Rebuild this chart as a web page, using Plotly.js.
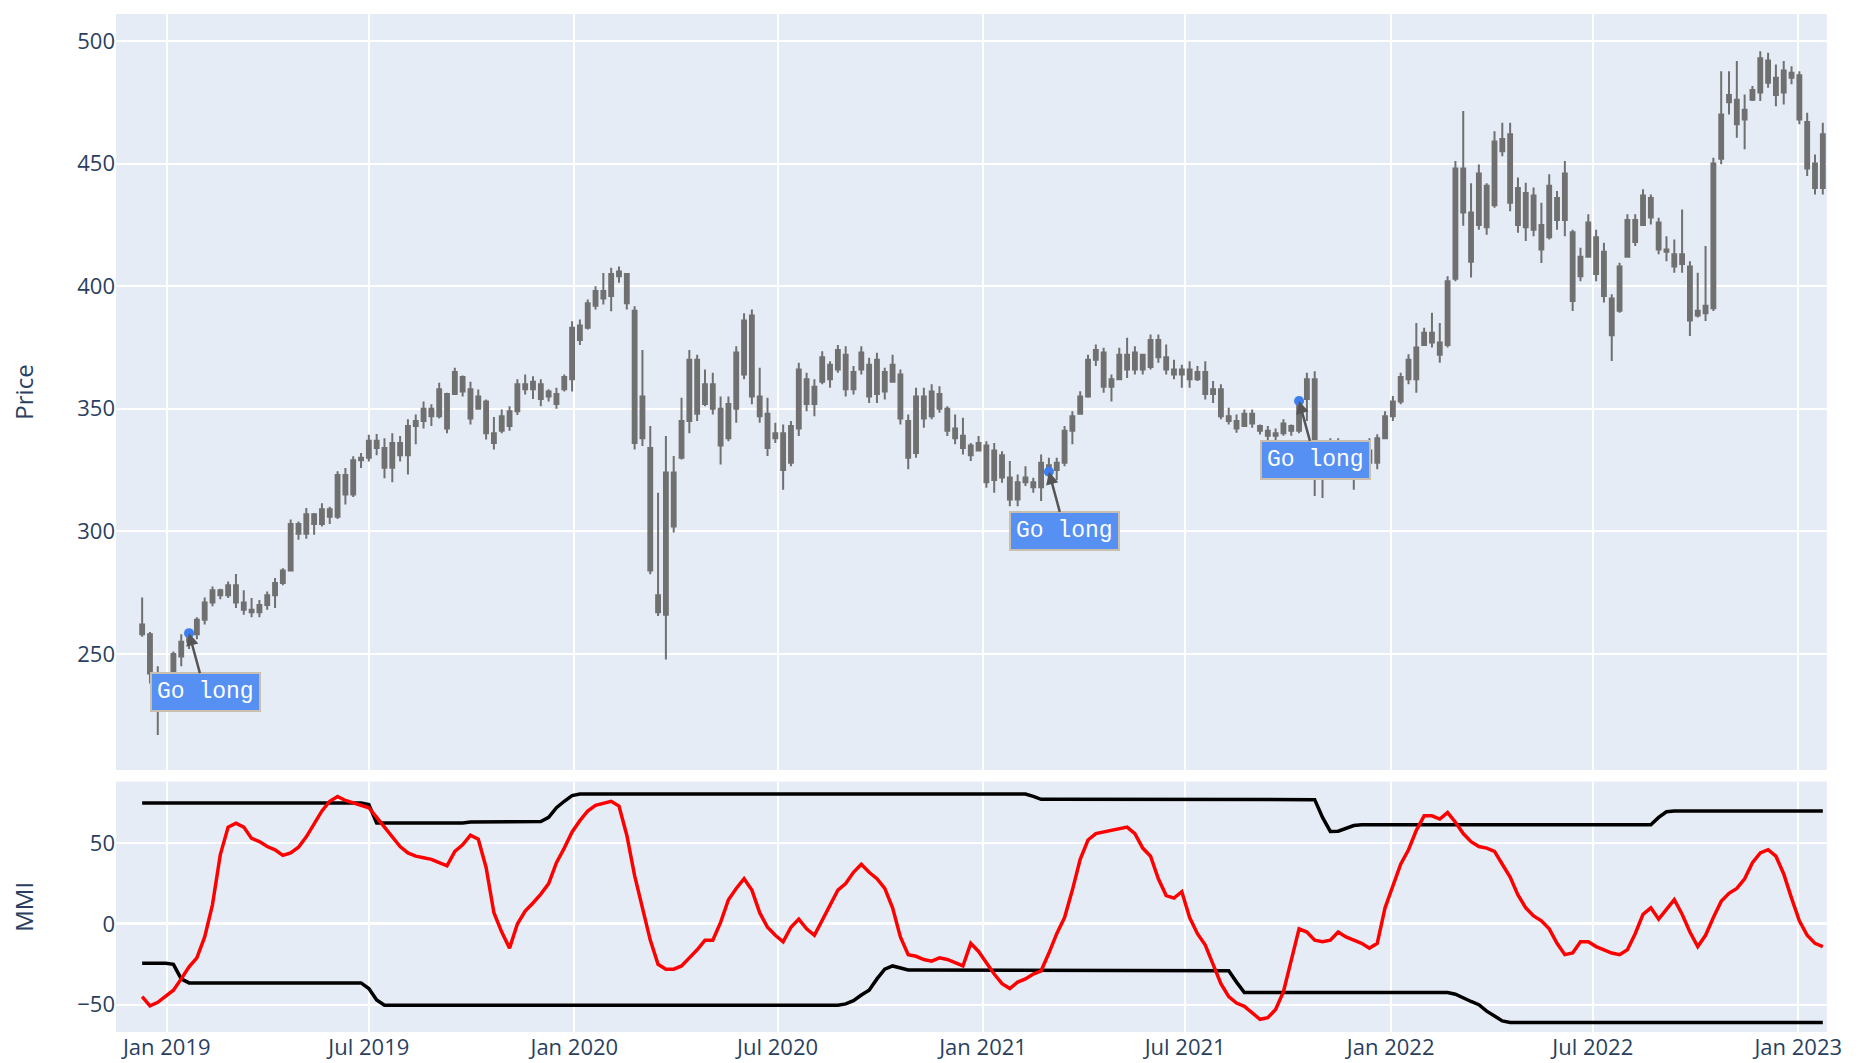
<!DOCTYPE html>
<html><head><meta charset="utf-8">
<script src="https://cdn.plot.ly/plotly-3.0.1.min.js"></script>
<style>html,body{margin:0;padding:0;background:#fff}#chart{width:1860px;height:1063px}</style>
</head><body><div id="chart"></div>
<script>
// Weekly dates (Mondays)
const dates = [
'2018-12-10','2018-12-17','2018-12-24','2018-12-31',
'2019-01-07','2019-01-14','2019-01-21','2019-01-28','2019-02-04','2019-02-11','2019-02-18','2019-02-25','2019-03-04','2019-03-11','2019-03-18','2019-03-25','2019-04-01','2019-04-08','2019-04-15','2019-04-22','2019-04-29','2019-05-06','2019-05-13','2019-05-20','2019-05-27','2019-06-03','2019-06-10','2019-06-17','2019-06-24','2019-07-01','2019-07-08','2019-07-15','2019-07-22','2019-07-29','2019-08-05','2019-08-12','2019-08-19','2019-08-26','2019-09-02','2019-09-09','2019-09-16','2019-09-23','2019-09-30','2019-10-07','2019-10-14','2019-10-21','2019-10-28','2019-11-04','2019-11-11','2019-11-18','2019-11-25','2019-12-02','2019-12-09','2019-12-16','2019-12-23','2019-12-30',
'2020-01-06','2020-01-13','2020-01-20','2020-01-27','2020-02-03','2020-02-10','2020-02-17','2020-02-24','2020-03-02','2020-03-09','2020-03-16','2020-03-23','2020-03-30','2020-04-06','2020-04-13','2020-04-20','2020-04-27','2020-05-04','2020-05-11','2020-05-18','2020-05-25','2020-06-01','2020-06-08','2020-06-15','2020-06-22','2020-06-29','2020-07-06','2020-07-13','2020-07-20','2020-07-27','2020-08-03','2020-08-10','2020-08-17','2020-08-24','2020-08-31','2020-09-07','2020-09-14','2020-09-21','2020-09-28','2020-10-05','2020-10-12','2020-10-19','2020-10-26','2020-11-02','2020-11-09','2020-11-16','2020-11-23','2020-11-30','2020-12-07','2020-12-14','2020-12-21','2020-12-28',
'2021-01-04','2021-01-11','2021-01-18','2021-01-25','2021-02-01','2021-02-08','2021-02-15','2021-02-22','2021-03-01','2021-03-08','2021-03-15','2021-03-22','2021-03-29','2021-04-05','2021-04-12','2021-04-19','2021-04-26','2021-05-03','2021-05-10','2021-05-17','2021-05-24','2021-05-31','2021-06-07','2021-06-14','2021-06-21','2021-06-28','2021-07-05','2021-07-12','2021-07-19','2021-07-26','2021-08-02','2021-08-09','2021-08-16','2021-08-23','2021-08-30','2021-09-06','2021-09-13','2021-09-20','2021-09-27','2021-10-04','2021-10-11','2021-10-18','2021-10-25','2021-11-01','2021-11-08','2021-11-15','2021-11-22','2021-11-29','2021-12-06','2021-12-13','2021-12-20','2021-12-27',
'2022-01-03','2022-01-10','2022-01-17','2022-01-24','2022-01-31','2022-02-07','2022-02-14','2022-02-21','2022-02-28','2022-03-07','2022-03-14','2022-03-21','2022-03-28','2022-04-04','2022-04-11','2022-04-18','2022-04-25','2022-05-02','2022-05-09','2022-05-16','2022-05-23','2022-05-30','2022-06-06','2022-06-13','2022-06-20','2022-06-27','2022-07-04','2022-07-11','2022-07-18','2022-07-25','2022-08-01','2022-08-08','2022-08-15','2022-08-22','2022-08-29','2022-09-05','2022-09-12','2022-09-19','2022-09-26','2022-10-03','2022-10-10','2022-10-17','2022-10-24','2022-10-31','2022-11-07','2022-11-14','2022-11-21','2022-11-28','2022-12-05','2022-12-12','2022-12-19','2022-12-26',
'2023-01-02','2023-01-09','2023-01-16','2023-01-23'];

const openP = [262,258,242,229,243,249,255,258,264,271,276,274,278,271,268,267,270,274,279,284,303,299,307,303,309,306,323,315,329,330,337,334,326,336,331,343,345,350,347,356,356,363,358,350,353,340,341,343,349,360,358,360,355,356,358,362,384,383,392,398,396,404,405,390,338,334,274,266,324,330,345,370,352,360,350,338,350,364,388,355,348,338,340,328,342,362,352,361,368,366,372,358,366,368,356,365,361,364,345,332,355,347,356,350,342,339,335,333,335,321,331,322,313,320,320,318,327,325,328,341,348,355,370,373,359,362,372,366,372,367,378,371,366,364,366,362,365,356,358,347,345,343,348,343,341,339,340,343,341,354,362,330,323,335,330,330,325,333,328,338,347,353,362,362,376,381,377,376,403,448,430,425,441,433,460,462,440,424,437,425,420,436,427,422,404,412,420,414,395,390,412,427,425,436,426,415,413,409,408,388,389,391,452,478,476,468,476,479,492,485,479,485,486,467,450,440];
const highP = [273,259,245,242,251,258,260,265,273,277.5,276.6,279.6,282.6,276,272.8,272,275.5,281,285,304.8,304,309.5,307.5,311.5,310,324.5,325.8,330.6,332,339.4,339.7,338,340,338.9,345.7,347.7,353,351.8,360.6,356.5,366.7,363.6,361,357.9,353.8,346.6,349.7,351,362,364,363.3,362,358,358.6,364,385.7,386.4,394.6,400,405.4,407.5,408,405.4,391.8,374,343,315.8,338.9,330.7,354.5,374,372,366,364.7,355,355,375.5,389,390.5,366.7,354.5,344.3,343.6,345,368.8,364.7,362,373.5,369.4,376,375.5,367.4,375.5,370.8,372.8,366.7,372,366,347.7,358.6,358.6,360,359.2,351,347.7,346.3,336,338.9,336.8,336,332.7,328.7,323.2,326.6,321.9,331.4,330,330,343,349,357.2,372,376.2,374.9,364,374.9,379,375.5,372,380.3,380.3,376.2,370,368,369.4,367.4,369.4,361.3,360,350.4,347.7,349.7,349.7,343.6,343,342,345.7,343.6,355,364.7,365.3,337,338,338,336,334,336,338,339.6,349,355.2,364.7,372.2,385,383,389.2,385,404,451,471.4,442,449.6,442,463.2,466.7,466.7,444.3,442.2,440.2,434,445.6,438.8,451,423,415.7,429.3,423,417.7,396.7,409.6,429.3,429.3,439.5,437.4,427.9,420.4,419,431.3,410.2,405.5,416.4,452.4,487.7,487.7,491.8,478.2,481.6,495.8,495.2,490.4,491.8,489.7,487.7,470.7,453.7,466.7];
const lowP = [257,238,217,228,242,245,252,256,262,269.5,272.3,272.8,268.8,266,265,265,268,268.8,278,283.7,296.6,297,298.6,302,303,305,311,314,325.8,328.5,331,321.7,320,328.5,323.2,335.5,342,343,346,340,355.8,355,343.6,349.7,337.5,333.4,340,341,347.5,355.8,354,351,353,350,357,357,376,382.3,390.5,392.5,389.8,401.4,390.5,333.4,334.8,282.5,265.5,247.8,299.5,329.3,340,345,351,347.7,327.3,336.8,344.3,362,351.8,344.3,330.7,336,317,326.6,338.9,349,347,360,358.6,364.7,355,355.8,364,352.4,352.4,353.8,360.6,343.6,325.3,330,342.3,345.7,348.4,338.9,335.5,331.4,328.7,332.7,317.8,315.8,319.8,310.3,310.3,318.5,315.8,312.4,322,321,326.6,335.5,347.7,354.5,367.4,356.5,353,362,362.6,364,364,366,368.8,364,362,358.6,358.6,361.3,353.8,352.4,345.7,343.6,340.2,342.9,342.3,339.5,337,337,339,339,340,345,314.4,313.6,323,326,323,317,324,326,325.3,338,345,351.8,360,356.5,375.6,375,368.8,375,402,424.6,403.5,423,421,432,453,430.6,421.8,418.4,420.4,409.5,419,423,420.4,389.9,402,411.6,402,393.3,369.5,389.2,411.6,416.4,424.5,425.2,413,410.2,405.5,405.5,379.7,387.2,385.8,389.9,449.7,470,460.5,455.8,475.5,475.5,480.9,473.4,474.1,482.3,466,444.9,437.4,437.4];
const closeP = [258,242,228,240,250,255,258.5,264,271,276,274,278,271,268,267,270,274,279,284,303,299,307,303,309,306,323,315,329,330,337,334,326,336,331,343,345,350,347,358,342,365,357,346,355,340,336,347,349,360,358,361,354,357,352,363,383,378,393,398,395,405,406,393,336,355,284,267,324,302,345,370,348,360,350,335,352,373,386,355,347,334,340,325,343,366,352,359,371,362,374,358,365,373,355,370,357,368,346,330,355,346,357,350,341,338,334,331,336,320,333,322,313,320,322,318,328,324.3,328,341,347,355,370,374,359,362,372,366,373,366,378,371,366,364,366,362,365,356,358,347,345,342,348,344,341,339,340,344,341,353.2,362,330,322,335,330,326,325,333,328,338,347,353,363,370,375,381,377,372,402,448,430,410,446,424,459,455,434,425,438,423,415,441,427,446,394,412,426,405,396,380,408,427,418,437,428,415,414,408,413,386,390,392,450,470,475,466,472,480,493,483,478,488,487,468,448,440,462];

// MMI indicator
const mmi = [-45,-50.7,-48.5,-44.8,-41,-34,-26.5,-21,-8,12,43,60,62.4,60,53,51,48,45.9,42.5,44,47.5,54,62,70,76,79,76.5,75,73,72,66,60,54,48,44,42,41,40,38,36,45,49,55,52.5,35,7,-5,-15,0,8,13,18.5,25,38,47,57,64,70,73.5,75,76,73,55,30,9,-10,-25,-28,-28,-26,-21,-16,-10,-10,1,15,22,28,21,7,-2,-7,-11,-2,3,-3,-7,2,12,21,25,32,37,32,28,22,10,-8,-19,-20,-22,-23,-21,-22,-24,-26,-12,-17,-24,-31,-37,-40,-36,-34,-31,-29,-18,-6,4,21,40,52,56,57,58.5,59.5,60,56,47,42,28,17.6,16,20,4,-6,-13,-25,-37,-45,-49,-51,-55,-59,-58,-53,-42,-22,-3,-5,-10,-11,-10,-5,-8,-10,-12,-15,-12,10,24,37,46,58,67,67,65,69,63,56,51,48,47,45,37,29,18,10,5,2,-3,-12,-19,-18,-11,-11,-14,-16,-18,-19,-16,-6,6,10,3,9,15,6,-5,-14,-7,4,14,19,22,28,38,44,46,42,31,16,2,-7,-12,-14];

// MMI upper band (216 weekly values)
const upperBand = [
75,75,75,75,75,75,75,75,75,75,
75,75,75,75,75,75,75,75,75,75,
75,75,75,75,75,75,75,75,75,
74,
62.5,62.5,62.5,62.5,62.5,62.5,62.5,62.5,62.5,62.5,62.5,62.5,
63.2,63.2,63.2,63.2,63.2,63.2,63.2,63.2,63.2,
63.5,66,72,76,79.5,
80.5,80.5,80.5,80.5,80.5,80.5,80.5,80.5,80.5,80.5,
80.5,80.5,80.5,80.5,80.5,80.5,80.5,80.5,80.5,80.5,
80.5,80.5,80.5,80.5,80.5,80.5,80.5,80.5,80.5,80.5,
80.5,80.5,80.5,80.5,80.5,80.5,80.5,80.5,80.5,80.5,
80.5,80.5,80.5,80.5,80.5,80.5,80.5,80.5,80.5,80.5,
80.5,80.5,80.5,80.5,80.5,80.5,80.5,80.5,
79,
77.2,77.2,77.2,77.2,77.2,77.2,77.2,77.2,77.2,77.2,
77.2,77.2,77.2,77.2,77.2,77.2,77.2,77.2,77.2,77.2,
77.2,77.2,77.2,77.2,77.2,77.2,77.2,77.2,77.2,77.2,
77.2,77.2,77.2,77.2,77.2,
77,66,57.3,57.5,59.5,61,
61.4,61.4,61.4,61.4,61.4,61.4,61.4,61.4,61.4,61.4,
61.4,61.4,61.4,61.4,61.4,61.4,61.4,61.4,61.4,61.4,
61.4,61.4,61.4,61.4,61.4,61.4,61.4,61.4,61.4,61.4,
61.4,61.4,61.4,61.4,61.4,61.4,61.4,
61.5,66,69.5,
70,70,70,70,70,70,70,70,70,70,
70,70,70,70,70,70,70,70,70,70];

// MMI lower band (216 weekly values)
const lowerBand = [
-24.3,-24.3,-24.3,-24.3,-25,-34,
-36.5,-36.5,-36.5,-36.5,-36.5,-36.5,-36.5,-36.5,-36.5,-36.5,
-36.5,-36.5,-36.5,-36.5,-36.5,-36.5,-36.5,-36.5,-36.5,-36.5,
-36.5,-36.5,-36.5,
-40,-47,
-50.3,-50.3,-50.3,-50.3,-50.3,-50.3,-50.3,-50.3,-50.3,-50.3,
-50.3,-50.3,-50.3,-50.3,-50.3,-50.3,-50.3,-50.3,-50.3,-50.3,
-50.3,-50.3,-50.3,-50.3,-50.3,-50.3,-50.3,-50.3,-50.3,-50.3,
-50.3,-50.3,-50.3,-50.3,-50.3,-50.3,-50.3,-50.3,-50.3,-50.3,
-50.3,-50.3,-50.3,-50.3,-50.3,-50.3,-50.3,-50.3,-50.3,-50.3,
-50.3,-50.3,-50.3,-50.3,-50.3,-50.3,-50.3,-50.3,-50.3,
-49.5,-47.5,-44,-41,-34,-28,-26,-27.5,
-28.5,-28.5,-28.5,-28.5,-28.5,-28.5,-28.5,-28.5,-28.5,-28.5,
-28.5,-28.5,-28.5,-28.5,-28.5,-28.5,-28.5,-28.5,-28.5,-28.5,
-28.5,-28.5,-28.5,-28.5,-28.5,-28.5,-28.5,-28.5,-28.5,-28.5,
-28.5,-28.5,-28.5,-28.5,-28.5,-28.5,-28.5,-28.5,-28.5,-28.5,
-28.5,
-29,-36,
-42.5,-42.5,-42.5,-42.5,-42.5,-42.5,-42.5,-42.5,-42.5,-42.5,
-42.5,-42.5,-42.5,-42.5,-42.5,-42.5,-42.5,-42.5,-42.5,-42.5,
-42.5,-42.5,-42.5,-42.5,-42.5,-42.5,-42.5,
-43.5,-46,-48,-50,-54,-57,-60,
-61,-61,-61,-61,-61,-61,-61,-61,-61,-61,
-61,-61,-61,-61,-61,-61,-61,-61,-61,-61,
-61,-61,-61,-61,-61,-61,-61,-61,-61,-61,
-61,-61,-61,-61,-61,-61,-61,-61,-61,-61,
-61];

// Signals
const signalDates = ['2019-01-21','2021-03-01','2021-10-11'];
const signalPrices = [258.5,324.3,353.2];
const signalText = ['Go long','Go long','Go long'];

const traces = [
  {type:'candlestick', x:dates, open:openP, high:highP, low:lowP, close:closeP,
   xaxis:'x', yaxis:'y', showlegend:false,
   increasing:{line:{color:'#707070', width:2}, fillcolor:'#707070'},
   decreasing:{line:{color:'#707070', width:2}, fillcolor:'#707070'}},
  {type:'scatter', mode:'markers', x:signalDates, y:signalPrices, xaxis:'x', yaxis:'y',
   marker:{color:'#3d7ff2', size:10}, showlegend:false},
  {type:'scatter', mode:'lines', x:dates, y:upperBand, xaxis:'x2', yaxis:'y2',
   line:{color:'black', width:3.5}, showlegend:false},
  {type:'scatter', mode:'lines', x:dates, y:lowerBand, xaxis:'x2', yaxis:'y2',
   line:{color:'black', width:3.5}, showlegend:false},
  {type:'scatter', mode:'lines', x:dates, y:mmi, xaxis:'x2', yaxis:'y2',
   line:{color:'red', width:3.5}, showlegend:false}
];

const annotations = signalDates.map((d,i)=>({
  x:d, y:signalPrices[i], xref:'x', yref:'y', text:signalText[i],
  showarrow:true, arrowhead:2, arrowsize:1, arrowwidth:2.5, arrowcolor:'#555',
  ax:16, ay:59,
  font:{family:'Liberation Mono, Courier New, monospace', size:23, color:'#ffffff'},
  bgcolor:'#5590f2', bordercolor:'#c8bfae', borderwidth:2, borderpad:5
}));

const tickFont = {family:'Open Sans, sans-serif', size:22, color:'#2a3f5f'};
const layout = {
  width:1860, height:1063,
  margin:{l:116, r:33, t:14, b:31},
  paper_bgcolor:'#ffffff', plot_bgcolor:'#E5ECF6',
  showlegend:false,
  font:{family:'Open Sans, sans-serif', color:'#2a3f5f'},
  xaxis:{domain:[0,1], anchor:'y', matches:'x2', type:'date', range:['2018-11-16 14:00','2023-01-26 18:00'],
         showticklabels:false, gridcolor:'#ffffff', gridwidth:1.5, zeroline:false,
         rangeslider:{visible:false}, dtick:'M6', tick0:'2019-01-01'},
  xaxis2:{domain:[0,1], anchor:'y2', type:'date', range:['2018-11-16 14:00','2023-01-26 18:00'],
          gridcolor:'#ffffff', gridwidth:1.5, zeroline:false, tickfont:tickFont,
          dtick:'M6', tick0:'2019-01-01', tickformat:'%b %Y'},
  yaxis:{domain:[0.2574,1], anchor:'x', range:[202.7,511], gridcolor:'#ffffff', gridwidth:1.5,
         zeroline:false, tickfont:tickFont, tickvals:[250,300,350,400,450,500],
         title:{text:'Price', font:{size:24, color:'#2a3f5f'}, standoff:36}},
  yaxis2:{domain:[0,0.246], anchor:'x2', range:[-66.9,88.2], gridcolor:'#ffffff', gridwidth:1.5,
          zeroline:true, zerolinecolor:'#ffffff', zerolinewidth:2.5, tickfont:tickFont, tickvals:[-50,0,50],
          title:{text:'MMI', font:{size:24, color:'#2a3f5f'}, standoff:36}},
  annotations:annotations
};

Plotly.newPlot('chart', traces, layout, {displayModeBar:false, responsive:false});
</script>
</body></html>
